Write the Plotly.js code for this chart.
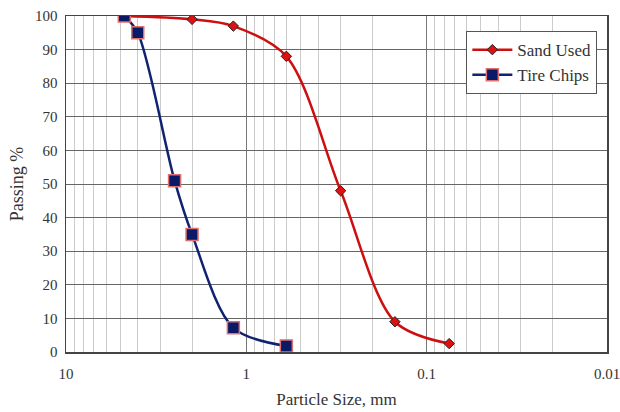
<!DOCTYPE html>
<html><head><meta charset="utf-8">
<script src="https://cdn.plot.ly/plotly-3.0.1.min.js"></script>
<style>html,body{margin:0;padding:0;background:#fff}#c{width:620px;height:412px}</style>
</head><body><div id="c"></div>
<script>
const sandSize = [4.75, 2.0, 1.18, 0.6, 0.3, 0.15, 0.075];
const sandPassing = [100, 99, 97, 88, 48, 9, 2.5];
const tireSize = [4.75, 4.0, 2.5, 2.0, 1.18, 0.6];
const tirePassing = [100, 95, 51, 35, 7.2, 1.8];
const xTicks = [10, 1, 0.1, 0.01];
const xTickText = ['10', '1', '0.1', '0.01'];
const yTicks = [0, 10, 20, 30, 40, 50, 60, 70, 80, 90, 100];
const xMinor = [9,8,7,6,5,4,3,2, 0.9,0.8,0.7,0.6,0.5,0.4,0.3,0.2, 0.09,0.08,0.07,0.06,0.05,0.04,0.03,0.02];

const ff = 'Liberation Serif, Times New Roman, serif';
const traces = [
  {x: sandSize, y: sandPassing, name: 'Sand Used', mode: 'lines+markers',
   line: {color: '#cc1010', width: 2.5, shape: 'spline', smoothing: 0.9},
   marker: {symbol: 'diamond', size: 8, color: '#dd1111', line: {color: '#222', width: 1}}},
  {x: tireSize, y: tirePassing, name: 'Tire Chips', mode: 'lines+markers',
   line: {color: '#0f2370', width: 2.5, shape: 'spline', smoothing: 0.9},
   marker: {symbol: 'square', size: 12, color: '#0a1a66', line: {color: '#e07070', width: 1.5}}}
];
const layout = {
  width: 620, height: 412,
  margin: {l: 66, r: 13, t: 16, b: 60},
  paper_bgcolor: '#fff', plot_bgcolor: '#fff',
  font: {family: ff, color: '#333', size: 15},
  showlegend: true,
  legend: {x: 0.74, y: 0.955, xanchor: 'left', yanchor: 'top', bgcolor: '#fff',
           bordercolor: '#555', borderwidth: 1, font: {family: ff, size: 17, color: '#333'},
           itemwidth: 40, tracegroupgap: 0},
  xaxis: {type: 'log', range: [1, -2], autorange: false,
          tickmode: 'array', tickvals: xTicks, ticktext: xTickText, ticks: '', ticklabelstandoff: 7,
          ticklabeloverflow: 'allow',
          showgrid: true, gridcolor: '#777', gridwidth: 1,
          minor: {tickmode: 'array', tickvals: xMinor, showgrid: true, gridcolor: '#cccccc', gridwidth: 1, ticks: ''},
          showline: true, linecolor: '#444', linewidth: 1.5, mirror: true,
          zeroline: false, tickfont: {family: ff, size: 15, color: '#333'},
          title: {text: 'Particle Size, mm', font: {family: ff, size: 17, color: '#333'}, standoff: 12}},
  yaxis: {range: [0, 100], autorange: false, tickmode: 'array', tickvals: yTicks,
          showgrid: true, gridcolor: '#666', gridwidth: 1,
          showline: true, linecolor: '#444', linewidth: 1.5, mirror: true, zeroline: false,
          ticks: '', ticklabelstandoff: 4, tickfont: {family: ff, size: 15, color: '#333'},
          title: {text: 'Passing %', font: {family: ff, size: 18, color: '#333'}, standoff: 6}}
};
Plotly.newPlot('c', traces, layout, {staticPlot: true});
</script></body></html>
